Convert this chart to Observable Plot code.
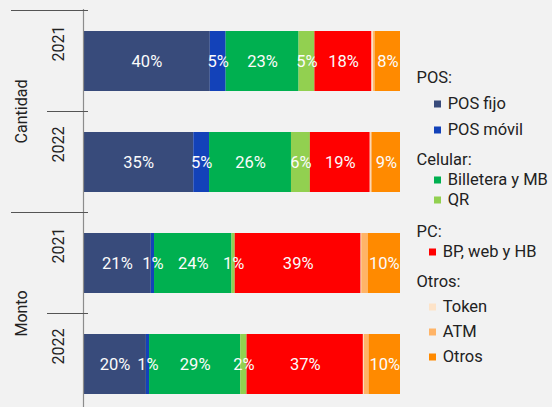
<!DOCTYPE html>
<html>
<head>
<meta charset="utf-8">
<script src="https://cdn.jsdelivr.net/npm/d3@7"></script>
<script src="https://cdn.jsdelivr.net/npm/@observablehq/plot@0.6"></script>
<style>
  html, body { margin: 0; padding: 0; background: #f2f2f2; overflow: hidden; }
  #chart { position: relative; width: 552px; height: 407px; overflow: hidden; }
  #chart svg { position: absolute; left: 0; top: 0; }
</style>
</head>
<body>
<div id="chart"></div>
<script>
// Measures, years and payment channels
const medidas = ["Cantidad", "Monto"];
const anios = ["2021", "2022"];
const canales = ["POS fijo", "POS móvil", "Billetera y MB", "QR", "BP, web y HB", "Token", "ATM", "Otros"];
const colores = ["#384b7b", "#1342b9", "#00b050", "#92d050", "#ff0000", "#fde3c8", "#ffb467", "#ff8a00"];

// Share of each channel (%), in the order of `canales`
const cantidad2021 = [40, 5, 23, 5, 18, 0.5, 0.5, 8];
const cantidad2022 = [35, 5, 26, 6, 19, 0.3, 0.3, 9];
const monto2021 = [21, 1, 24, 1, 39, 0.2, 2, 10];
const monto2022 = [20, 1, 29, 2, 37, 0.3, 1.5, 10];

// Channels drawn without a value label
const sinEtiqueta = ["Token", "ATM"];

// Legend groups
const gruposNombres = ["POS:", "Celular:", "PC:", "Otros:"];
const gruposCanales = [
  ["POS fijo", "POS móvil"],
  ["Billetera y MB", "QR"],
  ["BP, web y HB"],
  ["Token", "ATM", "Otros"]
];

const series = {
  "Cantidad|2021": cantidad2021,
  "Cantidad|2022": cantidad2022,
  "Monto|2021": monto2021,
  "Monto|2022": monto2022
};

const clave = (m, a) => `${m}|${a}`;
const claves = medidas.flatMap(m => anios.map(a => clave(m, a)));

const filas = [];
for (const m of medidas) {
  for (const a of anios) {
    series[clave(m, a)].forEach((v, i) => {
      filas.push({medida: m, anio: a, clave: clave(m, a), canal: canales[i], valor: v});
    });
  }
}
const barras = claves.map(k => ({clave: k, anio: k.split("|")[1]}));

const fuente = "Roboto, 'Noto Sans', sans-serif";

const plot = Plot.plot({
  width: 552,
  height: 415,
  marginTop: 9,
  marginBottom: 0,
  marginLeft: 83,
  marginRight: 152,
  style: {background: "#f2f2f2", fontFamily: fuente, fontSize: "16px", color: "#222"},
  x: {domain: [0, 1], axis: null},
  y: {domain: claves, paddingInner: 0.41, paddingOuter: 0.205, axis: null},
  color: {domain: canales, range: colores},
  marks: [
    Plot.barX(filas, Plot.stackX({
      x: "valor", y: "clave", fill: "canal", order: canales, offset: "normalize"
    })),
    Plot.text(filas, Plot.stackX({
      x: "valor", y: "clave", z: "canal", order: canales, offset: "normalize",
      text: d => sinEtiqueta.includes(d.canal) ? "" : `${d.valor}%`,
      fill: "#fbfbfb", fontSize: 16.5
    })),
    Plot.ruleX([0], {stroke: "#8c8c8c", strokeWidth: 1.2}),
    Plot.text(barras, {
      y: "clave", text: "anio", frameAnchor: "left", dx: -24.5, rotate: -90,
      fill: "#222", fontSize: 16
    })
  ]
});

const chart = document.getElementById("chart");
chart.appendChild(plot);

// Group dividers and group labels on the left, placed from the y scale
const ys = plot.scale("y");
const hueco = (ys.step - ys.bandwidth) / 2;
const svg = d3.select(plot);
const capa = svg.append("g").attr("font-family", fuente).attr("font-size", 16).attr("fill", "#222");
const exterior = [11, 88], interior = [47, 88];
const linea = (y, [x1, x2]) => capa.append("line")
  .attr("x1", x1).attr("x2", x2).attr("y1", y).attr("y2", y)
  .attr("stroke", "#555").attr("stroke-width", 1);

medidas.forEach((m, gi) => {
  const arriba = ys.apply(clave(m, anios[0])) - hueco;
  const abajo = ys.apply(clave(m, anios[anios.length - 1])) + ys.bandwidth + hueco;
  linea(arriba, exterior);
  if (gi === medidas.length - 1) linea(abajo, exterior);
  anios.slice(1).forEach(a => linea(ys.apply(clave(m, a)) - hueco, interior));
  const yc = (arriba + abajo) / 2;
  capa.append("text")
    .attr("transform", `translate(21.5,${yc}) rotate(-90)`)
    .attr("text-anchor", "middle").attr("dy", "0.35em")
    .text(m);
});

// Legend
const color = plot.scale("color");
const leyendaLayout = [
  {y: 77, paso: 26, sangria: 434},
  {y: 159, paso: 20, sangria: 434},
  {y: 231, paso: 20, sangria: 429},
  {y: 281, paso: 25, sangria: 429}
];
const ley = svg.append("g")
  .attr("font-family", fuente).attr("font-size", 16.5).attr("fill", "#222")
  .attr("text-anchor", "start");
const baseline = 5.9;
gruposNombres.forEach((g, gi) => {
  const L = leyendaLayout[gi];
  ley.append("text").attr("x", 416.5).attr("y", L.y + baseline).text(g);
  gruposCanales[gi].forEach((c, i) => {
    const yc = L.y + L.paso * (i + 1);
    ley.append("rect")
      .attr("x", L.sangria).attr("y", yc - 2.5).attr("width", 7).attr("height", 7)
      .attr("fill", color.apply(c));
    ley.append("text").attr("x", L.sangria + 13.7).attr("y", yc + baseline).text(c);
  });
});
</script>
</body>
</html>
